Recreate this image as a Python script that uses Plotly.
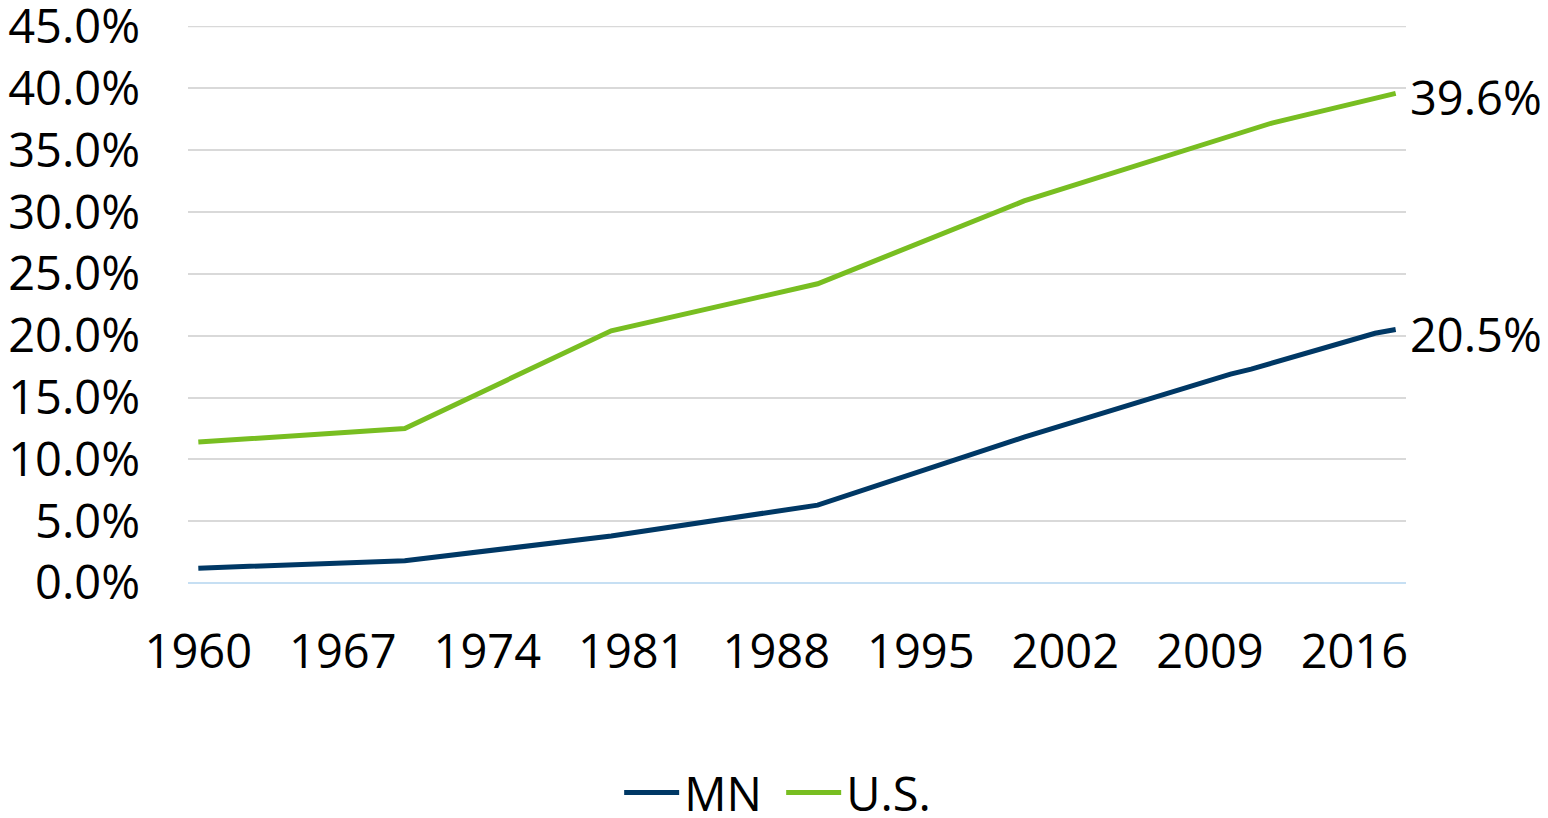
import plotly.graph_objects as go

years = [1960, 1970, 1980, 1990, 2000, 2010, 2011, 2012, 2013, 2014, 2015, 2016, 2017, 2018]
mn = [1.2, 1.8, 3.8, 6.3, 11.8, 16.9, 17.3, 17.8, 18.3, 18.8, 19.3, 19.8, 20.2, 20.5]
us = [11.4, 12.5, 20.4, 24.2, 30.9, 36.2, 36.7, 37.2, 37.6, 38.0, 38.4, 38.9, 39.3, 39.6]
series_names = ["MN", "U.S."]
colors = ["#003865", "#78BE21"]
end_labels = ["20.5%", "39.6%"]
y_ticks = [0, 5, 10, 15, 20, 25, 30, 35, 40, 45]
y_tick_text = ["0.0%", "5.0%", "10.0%", "15.0%", "20.0%", "25.0%", "30.0%", "35.0%", "40.0%", "45.0%"]
x_ticks = [1960, 1967, 1974, 1981, 1988, 1995, 2002, 2009, 2016]

FONT = "Open Sans"
FS = 47
GRID = "#D9D9D9"

fig = go.Figure()
for name, vals, col in zip(series_names, [mn, us], colors):
    fig.add_trace(go.Scatter(x=years, y=vals, mode="lines", name=name,
                             line=dict(color=col, width=5)))

for vals, lab in zip([mn, us], end_labels):
    fig.add_annotation(x=years[-1], y=vals[-1], text=lab, showarrow=False,
                       xanchor="left", yanchor="middle", xshift=12, yshift=-4,
                       font=dict(family=FONT, size=FS, color="black"))

# top gridline (at the edge of the plotting area)
fig.add_shape(type="line", xref="paper", yref="y", x0=0, x1=1, y0=y_ticks[-1], y1=y_ticks[-1],
              line=dict(color=GRID, width=1.5), layer="below")

fig.update_layout(
    width=1540, height=810,
    paper_bgcolor="white", plot_bgcolor="white",
    margin=dict(l=180, r=142, t=18, b=235, autoexpand=False),
    font=dict(family=FONT, size=FS, color="black"),
    showlegend=True,
    legend=dict(orientation="h", x=0.487, xanchor="center", y=-0.377, yanchor="middle",
                font=dict(family=FONT, size=FS, color="black"),
                itemwidth=55, entrywidth=92, entrywidthmode="pixels"),
    xaxis=dict(range=[1959.5, 2018.5], tickvals=x_ticks, automargin=False,
               showgrid=False, zeroline=False, showline=False, ticks="",
               ticklabelstandoff=37, ticklabeloverflow="allow"),
    yaxis=dict(range=[0, 45.05], tickvals=y_ticks, ticktext=y_tick_text, automargin=False,
               showgrid=True, gridcolor=GRID, gridwidth=1.5,
               zeroline=True, zerolinecolor="#C6DFF3", zerolinewidth=1.5,
               showline=False, ticks="", ticklabelstandoff=47,
               ticklabeloverflow="allow"),
)

fig.write_html("out.html")
